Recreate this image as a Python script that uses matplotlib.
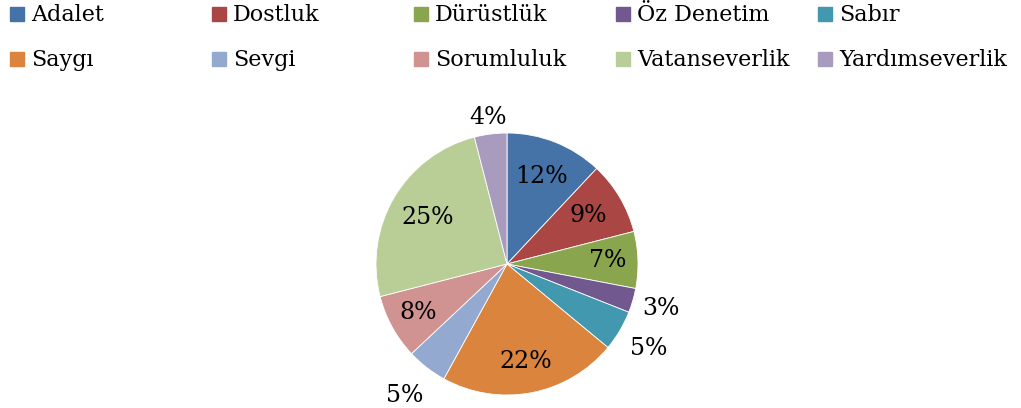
import numpy as np
import matplotlib.pyplot as plt
from matplotlib.patches import Rectangle

labels = ['Adalet', 'Dostluk', 'Dürüstlük', 'Öz Denetim', 'Sabır',
          'Saygı', 'Sevgi', 'Sorumluluk', 'Vatanseverlik', 'Yardımseverlik']
values = [12, 9, 7, 3, 5, 22, 5, 8, 25, 4]
colors = ['#4572A7', '#AA4643', '#89A54E', '#71588F', '#4198AF',
          '#DB843D', '#93A9CF', '#D19392', '#B9CD96', '#A99BBD']
# radial position of each % label (fraction of radius)
label_r = [0.72, 0.72, 0.77, 1.22, 1.26, 0.76, 1.27, 0.77, 0.70, 1.13]

plt.rcParams['font.family'] = 'DejaVu Serif'

W, H = 1021, 408
fig = plt.figure(figsize=(W/100, H/100), dpi=100)

# pie: center (507, 264) px, radius 131 px
cx, cy, R = 507, 264, 131
ax = fig.add_axes([(cx-R)/W, (H-cy-R)/H, 2*R/W, 2*R/H])
wedges, _ = ax.pie(values, colors=colors, startangle=90, counterclock=False,
                   wedgeprops=dict(edgecolor='white', linewidth=0.6))
for w, v, r in zip(wedges, values, label_r):
    ang = np.deg2rad((w.theta1 + w.theta2) / 2)
    ax.text(r*np.cos(ang), r*np.sin(ang), f'{v}%', ha='center', va='center',
            fontsize=17, color='black')
ax.set_xlim(-1, 1)
ax.set_ylim(-1, 1)

# legend, 2 rows x 5 columns
for i, (name, c) in enumerate(zip(labels, colors)):
    col, row = i % 5, i // 5
    x0 = 10 + col*202
    base = 21 + row*45
    fig.patches.append(Rectangle((x0/W, 1-base/H), 14/W, 14/H,
                                 transform=fig.transFigure, color=c))
    fig.text((x0+21)/W, 1-base/H, name, va='baseline', fontsize=16)

fig.savefig('out.png', dpi=100)
